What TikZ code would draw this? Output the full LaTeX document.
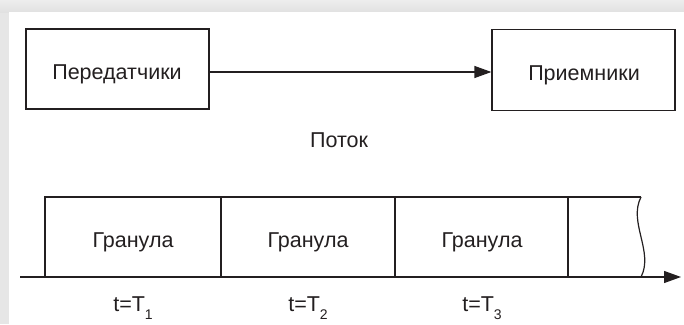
\documentclass[tikz,border=0pt]{standalone}
\usepackage{fontspec}
\setmainfont{Liberation Sans}
\usetikzlibrary{arrows.meta}
\definecolor{ink}{HTML}{231F20}
\definecolor{frame}{HTML}{E6E6E6}
\newcommand{\sublow}[1]{\raisebox{-8.5pt}{\fontsize{14}{16}\selectfont #1}}
\tikzset{
  lbl/.style={font=\fontsize{21.5}{25}\selectfont, text=ink, inner sep=0pt, anchor=base},
  unitbox/.style={draw=ink, line width=1.2pt, inner sep=0pt},
  wire/.style={draw=ink, line width=1.2pt},
  flow/.style={wire, -{Triangle[length=17pt,width=12pt]}},
}
\begin{document}
\begin{tikzpicture}[x=1pt,y=-1pt]
  \useasboundingbox (0,0) rectangle (684,324);
  % page frame: grey margin on top and left
  \fill[frame] (0,0) rectangle (684,324);
  \fill[top color=frame!70, bottom color=frame!120] (0,0) rectangle (684,12);
  \fill[white] (9,12) rectangle (684,324);

  % transmitters and receivers
  \node[unitbox, minimum width=183pt, minimum height=80pt] (tx) at (117.5,69) {};
  \node[lbl] (txl) at (117,79) {Передатчики};
  \node[unitbox, minimum width=183pt, minimum height=81pt] (rx) at (583.5,70) {};
  \node[lbl] (rxl) at (584,80) {Приемники};
  \draw[flow] (tx.east |- 0,72) coordinate (a) -- (a -| rx.west);
  \node[lbl] (flowlbl) at (339,147) {Поток};

  % time axis
  \coordinate (ax0) at (20,277);
  \coordinate (ax1) at (681,277);
  \draw[flow] (ax0) -- (ax1);

  % granules
  \coordinate (g0t) at (45,197);
  \coordinate (g1t) at (221,197);
  \coordinate (g2t) at (395,197);
  \coordinate (g3t) at (568,197);
  \coordinate (endt) at (641,197);
  \coordinate (endb) at (641,277);
  \draw[wire] (endt) -- (g0t) -- (g0t |- ax0);
  \draw[wire] (g1t) -- (g1t |- ax0);
  \draw[wire] (g2t) -- (g2t |- ax0);
  \draw[wire] (g3t) -- (g3t |- ax0);
  \draw[wire] (endt) .. controls (628,222) and (654,252) .. (endb);

  \node[lbl] (gr1) at (133,247) {Гранула};
  \node[lbl] (gr2) at (308,247) {Гранула};
  \node[lbl] (gr3) at (482,247) {Гранула};

  \node[lbl] (t1) at (133,311) {t=T\sublow{1}};
  \node[lbl] (t2) at (308,311) {t=T\sublow{2}};
  \node[lbl] (t3) at (482,311) {t=T\sublow{3}};
\end{tikzpicture}
\end{document}
